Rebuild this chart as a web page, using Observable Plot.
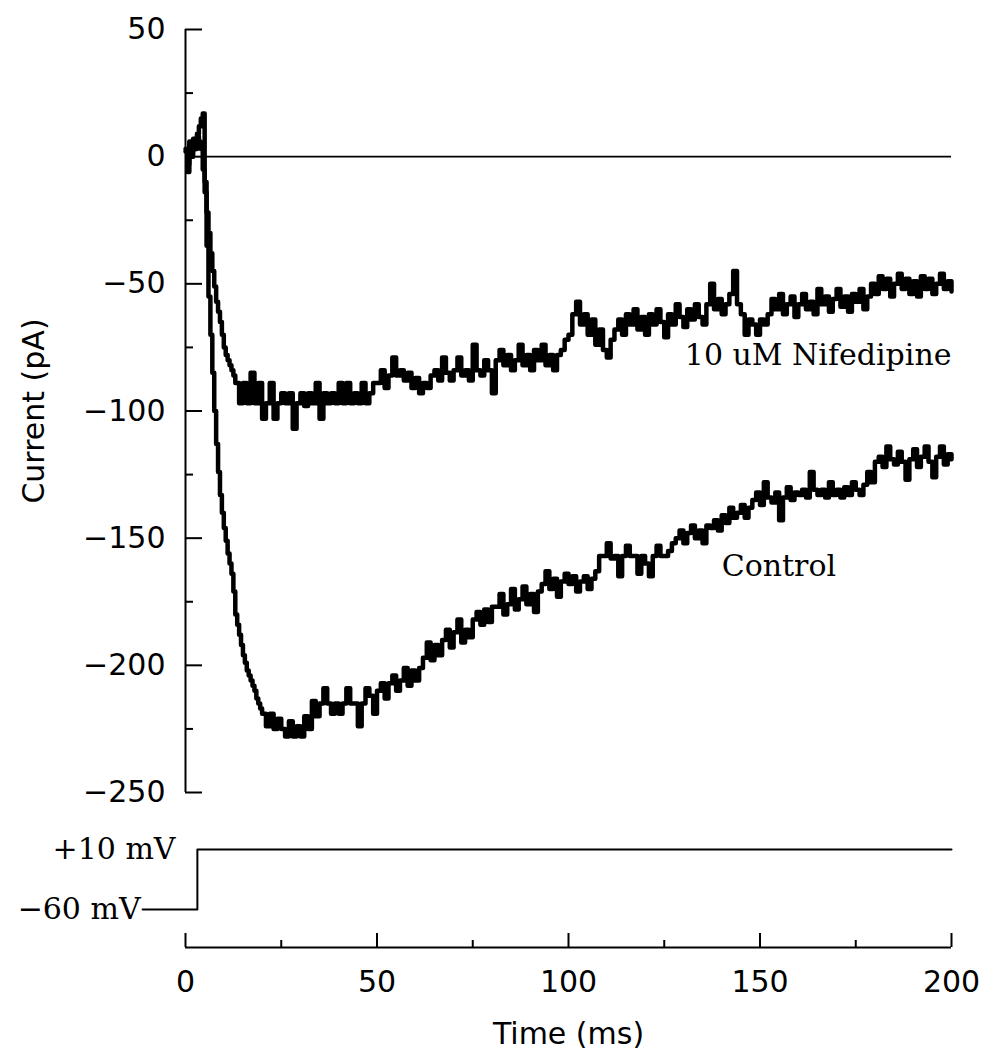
<!DOCTYPE html>
<html>
<head>
<meta charset="utf-8">
<script src="https://cdn.jsdelivr.net/npm/d3@7"></script>
<script src="https://cdn.jsdelivr.net/npm/@observablehq/plot@0.6"></script>
<style>
  body { margin: 0; background: #fff; }
  #chart { width: 983px; height: 1064px; }
  #chart svg { display: block; }
</style>
</head>
<body>
<div id="chart"></div>
<script>
// ---------------- data ----------------
const xMajor = [0, 50, 100, 150, 200];
const xMinor = [25, 75, 125, 175];
const yMajor = [-250, -200, -150, -100, -50, 0, 50];
const yMinor = [-225, -175, -125, -75, -25, 25];

// Control trace: fast transient (ms, pA)
const controlTimeEarly = [0,0.5,1,1.5,2,2.5,3,3.5,4,4.5,5,5.5,6,6.5,7,7.5,8,8.5,9,9.5,10,10.5,11,11.5,12,12.5,13,13.5,14,14.5,15,15.5,16,16.5,17,17.5,18,18.5,19,19.5];
const controlCurrentEarly = [2,-6,5,0,6,3,9,12,15,17,-10,-35,-55,-70,-85,-100,-113,-124,-133,-140,-146,-151,-156,-160,-164,-171,-180,-184,-188,-192,-196,-199,-202,-204,-206,-208,-210,-213,-215,-217];
// Control trace: sampled every 1 ms from 20 ms to 200 ms
const controlLateStart = 20;
const controlCurrentLate = [
  -219,-224,-219,-225,-221,-225,-228,-222,-228,-224,-228,
  -220,-225,-214,-220,-215,-209,-215,-219,-215,-219,-215,-209,-215,-215,-224,-215,-209,-212,-219,
  -210,-207,-213,-207,-204,-210,-206,-201,-208,-202,-206,-201,
  -197,-191,-198,-192,-196,-190,-186,-193,-187,-182,-191,-186,-189,
  -182,-179,-184,-178,-183,-177,-177,-172,-180,-176,-170,-178,-174,-169,-176,-172,-179,-171,
  -168,-163,-170,-166,-173,-167,-164,-168,-165,-171,-167,-165,-170,-166,-163,
  -157,-157,-152,-158,-157,-165,-157,-153,-157,-157,-164,-157,-160,-165,-157,-153,-157,-157,-155,-152,
  -150,-147,-152,-148,-145,-150,-147,-152,-145,
  -146,-143,-147,-141,-144,-138,-142,-140,-137,-142,-138,
  -135,-132,-137,-128,-134,-136,-132,-143,-134,-130,-135,-132,
  -133,-131,-134,-124,-131,-133,-131,-134,-128,-133,-131,-134,-130,-133,-128,-131,-133,-129,
  -124,-128,-120,
  -118,-122,-114,-119,-121,-116,-120,-127,-119,-115,-122,-118,-114,-120,-126,-118,-114,-121,-117,-119
];

// 10 uM Nifedipine trace: fast transient
const nifTimeEarly = [0,0.5,1,1.5,2,2.5,3,3.5,4,4.5,5,5.5,6,6.5,7,7.5,8,8.5,9,9.5,10,10.5,11,11.5,12,12.5];
const nifCurrentEarly = [3,-3,6,2,7,4,8,6,3,-5,-14,-22,-30,-38,-45,-51,-57,-61,-65,-70,-75,-78,-80,-82,-84,-86];
// Nifedipine trace: sampled every 1 ms from 13 ms to 200 ms
const nifLateStart = 13;
const nifCurrentLate = [
  -89,-97,-89,-97,-85,-97,-89,-103,-97,-89,-103,-97,-93,-97,-93,-107,-97,-93,-98,-93,-97,-89,-103,-93,-97,-93,-97,-89,-97,-89,-97,-93,-97,-89,-97,-93,-89,
  -89,-84,-91,-86,-79,-86,-84,-88,-85,-91,-87,-93,-89,-91,
  -86,-84,-88,-79,-85,-88,-84,-79,-86,-84,-88,-74,-84,-86,
  -80,-84,-93,-80,-76,-82,-78,-84,-80,-74,-82,-78,-84,-76,-80,-74,-82,-78,-84,-78,-76,-72,
  -70,-62,-57,-66,-62,-70,-64,-74,-68,-76,-79,-72,-68,
  -64,-70,-62,-66,-60,-68,-63,-70,-62,-66,-60,-65,-71,-62,-66,-58,-63,-67,-60,-64,-58,-63,-66,
  -58,-50,-60,-56,-62,-58,-54,-45,-58,-62,-70,-64,-66,-70,-64,-66,-62,
  -56,-60,-54,-62,-58,-55,-63,-58,-54,-60,-57,-62,
  -52,-58,-55,-61,-56,-52,-59,-55,-61,-54,-57,-52,-60,-55,
  -50,-54,-47,-52,-48,-55,-50,-46,-52,-48,-54,-49,-55,-47,-52,-48,-54,-50,-46,-52,-49,-53
];

// Zero-current reference line (ms)
const zeroLineStart = 4.7;
const zeroLineEnd = 200;

// Voltage protocol (ms, mV)
const voltageTime = [-11.2, 3.1, 3.1, 200];
const voltageMV = [-60, -60, 10, 10];

// Trace labels
const traceLabels = ["10 uM Nifedipine", "Control"];
const traceLabelTime = [200, 140];
const traceLabelCurrent = [-78, -161];

// ---------------- build tables ----------------
function buildTrace(tEarly, iEarly, lateStart, iLate) {
  const rows = tEarly.map((t, k) => ({t, i: iEarly[k]}));
  iLate.forEach((v, k) => rows.push({t: lateStart + k, i: v}));
  return rows;
}
const control = buildTrace(controlTimeEarly, controlCurrentEarly, controlLateStart, controlCurrentLate);
const nifedipine = buildTrace(nifTimeEarly, nifCurrentEarly, nifLateStart, nifCurrentLate);
const voltage = voltageTime.map((t, k) => ({t, v: voltageMV[k]}));
const minus = d => d < 0 ? "\u2212" + Math.abs(d) : String(d);

const sans = "DejaVu Sans";
const serif = "DejaVu Serif";
const fs = 30;

// layout
const W = 983, mL = 185, mR = 32;
const frameW = W - mL - mR;
const H1 = 800, mT1 = 29, mB1 = 8;
const H2 = 264, mT2 = 20, mB2 = 117;
const frameH2 = H2 - mT2 - mB2;

// ---------------- current panel ----------------
const main = Plot.plot({
  width: W,
  height: H1,
  marginLeft: mL,
  marginRight: mR,
  marginTop: mT1,
  marginBottom: mB1,
  x: {domain: [0, 200], axis: null},
  y: {domain: [-250, 50]},
  style: {fontFamily: sans, fontSize: fs + "px", color: "black", background: "white", overflow: "visible"},
  marks: [
    Plot.ruleX([0], {y1: -250, y2: 50, strokeWidth: 2}),
    Plot.tickY(yMajor, {y: d => d, insetRight: frameW - 17, strokeWidth: 2}),
    Plot.tickY(yMinor, {y: d => d, insetRight: frameW - 8, strokeWidth: 2}),
    Plot.axisY({ticks: yMajor, tickSize: 0, tickPadding: 20, tickFormat: minus, fontSize: fs,
      label: "Current (pA)", labelAnchor: "center", labelOffset: 163, labelArrow: "none"}),
    Plot.ruleY([0], {x1: zeroLineStart, x2: zeroLineEnd, strokeWidth: 1.6}),
    Plot.line(nifedipine, {x: "t", y: "i", curve: "step-after", strokeWidth: 4.5, stroke: "black"}),
    Plot.line(control, {x: "t", y: "i", curve: "step-after", strokeWidth: 4.5, stroke: "black"}),
    Plot.text([0], {x: () => traceLabelTime[0], y: () => traceLabelCurrent[0], text: () => traceLabels[0],
      textAnchor: "end", fontFamily: serif, fontSize: fs}),
    Plot.text([1], {x: () => traceLabelTime[1], y: () => traceLabelCurrent[1], text: () => traceLabels[1],
      textAnchor: "start", fontFamily: serif, fontSize: fs})
  ]
});

// ---------------- voltage panel + time axis ----------------
const bottom = Plot.plot({
  width: W,
  height: H2,
  marginLeft: mL,
  marginRight: mR,
  marginTop: mT2,
  marginBottom: mB2,
  x: {domain: [0, 200]},
  y: {domain: [-60, 10], range: [109, 49], axis: null},
  style: {fontFamily: sans, fontSize: fs + "px", color: "black", background: "white", overflow: "visible"},
  marks: [
    Plot.line(voltage, {x: "t", y: "v", strokeWidth: 2}),
    Plot.ruleY([-60], {dy: 38, strokeWidth: 2}),
    Plot.tickX(xMajor, {x: d => d, insetTop: frameH2 - 14, strokeWidth: 2}),
    Plot.tickX(xMinor, {x: d => d, insetTop: frameH2 - 7, strokeWidth: 2}),
    Plot.axisX({ticks: xMajor, tickSize: 0, tickPadding: 23, fontSize: fs,
      label: "Time (ms)", labelAnchor: "center", labelOffset: 96, labelArrow: "none"}),
    Plot.text([voltage[3]], {x: () => 0, y: "v", text: () => "+10 mV", dx: -10, textAnchor: "end", fontFamily: serif, fontSize: fs}),
    Plot.text([voltage[0]], {x: "t", y: "v", text: () => "\u221260 mV", dx: -2, textAnchor: "end", fontFamily: serif, fontSize: fs})
  ]
});

const root = document.getElementById("chart");
root.appendChild(main);
root.appendChild(bottom);
</script>
</body>
</html>
